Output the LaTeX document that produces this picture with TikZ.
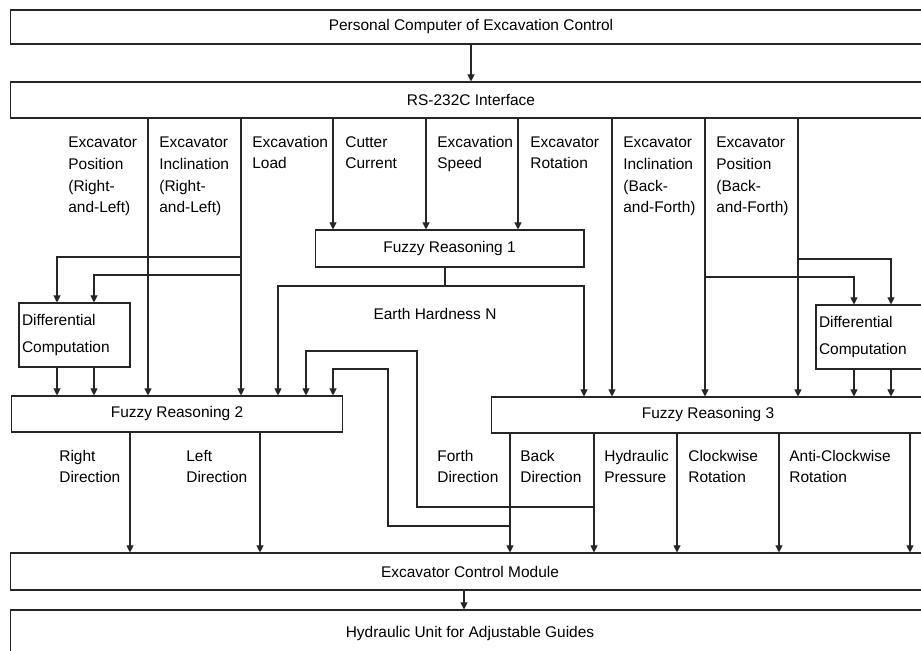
\documentclass[tikz,border=0pt]{standalone}
\usepackage{fontspec}
\setmainfont{Liberation Sans}
\usetikzlibrary{arrows.meta}
\newcommand{\sigfont}{\fontsize{8.8}{12.5}\selectfont}
\newcommand{\difffont}{\fontsize{8.8}{15.9}\selectfont}
\tikzset{
  box/.style={draw=black!85,line width=0.6pt,inner sep=0pt,font=\sigfont},
  diff/.style={box,align=left,text width=2.10cm,inner xsep=0.06cm,
    minimum width=2.22cm,minimum height=1.28cm,font=\difffont},
  arr/.style={-{Triangle[length=4pt,width=4pt]},draw=black!85,line width=0.6pt},
  wire/.style={draw=black!85,line width=0.6pt},
  lbl/.style={anchor=base west,align=left,inner sep=0pt,font=\sigfont},
}

\begin{document}
\begin{tikzpicture}[x=0.02cm,y=-0.02cm]
  \useasboundingbox (0,0) rectangle (921,651);
  \clip (0,0) rectangle (921,651);

  % blocks
  \node[box,minimum width=18.44cm,minimum height=0.68cm] (pc) at (471,27)
    {Personal Computer of Excavation Control};
  \node[box,minimum width=18.44cm,minimum height=0.72cm] (rs) at (471,100)
    {RS-232C Interface};
  \node[box,minimum width=5.38cm,minimum height=0.74cm] (fr1) at (449.5,248.5)
    {Fuzzy Reasoning 1};
  \node[box,minimum width=6.64cm,minimum height=0.72cm] (fr2) at (177,414)
    {Fuzzy Reasoning 2};
  \node[box,minimum width=8.68cm,minimum height=0.72cm] (fr3) at (708,415)
    {Fuzzy Reasoning 3};
  \node[diff] (dcl) at (74.5,335) {Differential\\Computation};
  \node[diff] (dcr) at (871.5,337) {Differential\\Computation};
  \node[box,minimum width=18.4cm,minimum height=0.74cm] (ecm) at (470,571.5)
    {Excavator Control Module};
  \node[box,minimum width=18.4cm,minimum height=0.96cm] (hu) at (470,634)
    {Hydraulic Unit for Adjustable Guides};

  % signal columns
  \coordinate (posRL) at (148,0);
  \coordinate (incRL) at (241,0);
  \coordinate (load)  at (333,0);
  \coordinate (cur)   at (426,0);
  \coordinate (spd)   at (518,0);
  \coordinate (rot)   at (612,0);
  \coordinate (incBF) at (705,0);
  \coordinate (posBF) at (798,0);
  \coordinate (dl1) at (57,0);
  \coordinate (dl2) at (94,0);
  \coordinate (dr1) at (854,0);
  \coordinate (dr2) at (891,0);
  \coordinate (ehL) at (278,0);
  \coordinate (ehR) at (584,0);
  \coordinate (fbBin) at (306,0);
  \coordinate (fbFin) at (333,0);
  \coordinate (rgt) at (130,0);
  \coordinate (lft) at (260,0);
  \coordinate (fwd) at (510,0);
  \coordinate (bck) at (594,0);
  \coordinate (hyd) at (677,0);
  \coordinate (cw)  at (779,0);
  \coordinate (acw) at (910,0);
  \coordinate (ctl) at (464,0);
  % junctions
  \coordinate (jL1) at (241,257);
  \coordinate (jL2) at (241,275);
  \coordinate (jR1) at (798,259);
  \coordinate (jR2) at (705,277);
  \coordinate (ehj) at (445,286);
  \coordinate (fbB) at (594,507);
  \coordinate (fbBup) at (417,351);
  \coordinate (fbF) at (510,526);
  \coordinate (fbFup) at (388,369);

  % input labels (placed at the baseline of the last line)
  \node[lbl] (tPosRL) at (68,213) {Excavator\\Position\\(Right-\\and-Left)};
  \node[lbl] (tIncRL) at (159,213) {Excavator\\Inclination\\(Right-\\and-Left)};
  \node[lbl] (tLoad) at (252,169) {Excavation\\Load};
  \node[lbl] (tCur) at (345,169) {Cutter\\Current};
  \node[lbl] (tSpd) at (437,169) {Excavation\\Speed};
  \node[lbl] (tRot) at (530,169) {Excavator\\Rotation};
  \node[lbl] (tIncBF) at (623,213) {Excavator\\Inclination\\(Back-\\and-Forth)};
  \node[lbl] (tPosBF) at (716,213) {Excavator\\Position\\(Back-\\and-Forth)};
  \node[font=\sigfont,inner sep=0pt] (tEH) at (435,314) {Earth Hardness N};

  % output labels
  \node[lbl] (tRgt) at (59,483) {Right\\Direction};
  \node[lbl] (tLft) at (186,483) {Left\\Direction};
  \node[lbl] (tFwd) at (437,483) {Forth\\Direction};
  \node[lbl] (tBck) at (520,483) {Back\\Direction};
  \node[lbl] (tHyd) at (604,483) {Hydraulic\\Pressure};
  \node[lbl] (tCw) at (688,483) {Clockwise\\Rotation};
  \node[lbl] (tAcw) at (789,483) {Anti-Clockwise\\Rotation};

  % connectors
  \draw[arr] (pc.south) -- (rs.north);
  \foreach \c in {posRL,incRL}
    \draw[arr] (\c |- rs.south) -- (\c |- fr2.north);
  \foreach \c in {load,cur,spd}
    \draw[arr] (\c |- rs.south) -- (\c |- fr1.north);
  \foreach \c in {rot,incBF,posBF}
    \draw[arr] (\c |- rs.south) -- (\c |- fr3.north);
  \draw[arr] (jL1) -| (dl1 |- dcl.north);
  \draw[arr] (jL2) -| (dl2 |- dcl.north);
  \draw[arr] (jR1) -| (dr2 |- dcr.north);
  \draw[arr] (jR2) -| (dr1 |- dcr.north);
  \foreach \c in {dl1,dl2}
    \draw[arr] (\c |- dcl.south) -- (\c |- fr2.north);
  \foreach \c in {dr1,dr2}
    \draw[arr] (\c |- dcr.south) -- (\c |- fr3.north);
  \draw[wire] (ehj |- fr1.south) -- (ehj);
  \draw[arr] (ehj) -| (ehL |- fr2.north);
  \draw[arr] (ehj) -| (ehR |- fr3.north);
  \foreach \c in {rgt,lft}
    \draw[arr] (\c |- fr2.south) -- (\c |- ecm.north);
  \foreach \c in {fwd,bck,hyd,cw,acw}
    \draw[arr] (\c |- fr3.south) -- (\c |- ecm.north);
  \draw[arr] (fbB) -| (fbBup) -| (fbBin |- fr2.north);
  \draw[arr] (fbF) -| (fbFup) -| (fbFin |- fr2.north);
  \draw[arr] (ctl |- ecm.south) -- (ctl |- hu.north);
\end{tikzpicture}
\end{document}
